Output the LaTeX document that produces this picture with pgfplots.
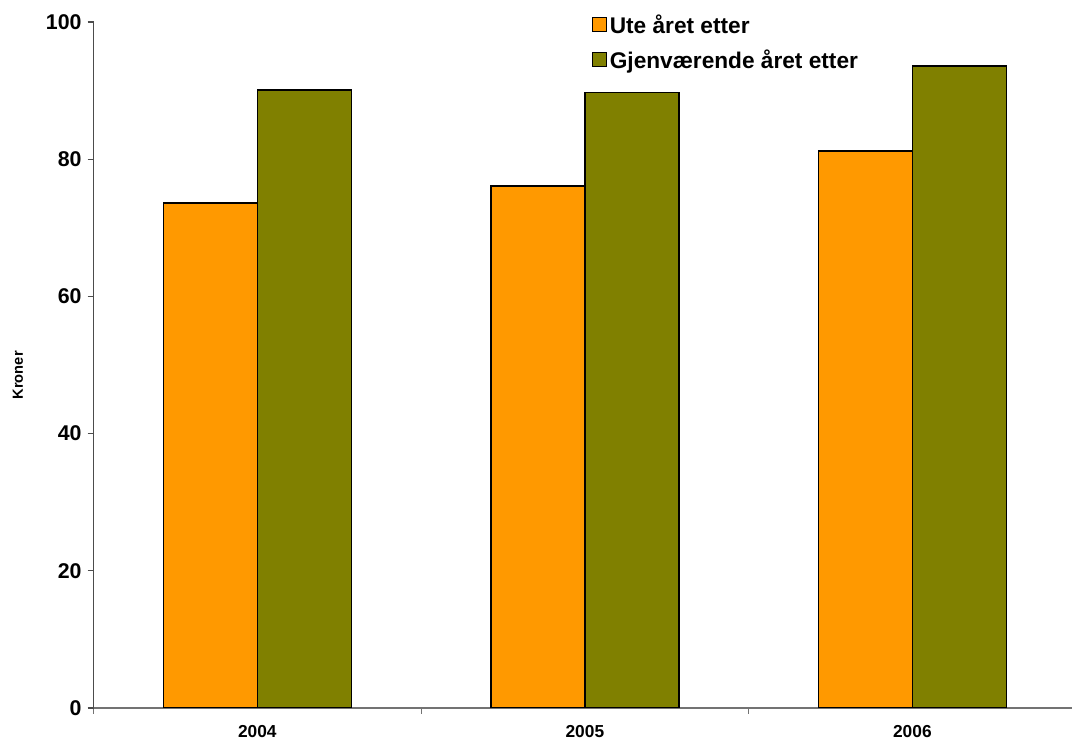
\documentclass[border=0pt]{standalone}
\usepackage{pgfplots}
\pgfplotsset{compat=1.18}
\usepackage{fontspec}
\setmainfont{Liberation Sans}
\definecolor{orangeb}{HTML}{FF9900}
\definecolor{oliveb}{HTML}{808000}
\begin{document}
\begin{tikzpicture}[x=1pt,y=1pt]
\useasboundingbox (0,0) rectangle (804,558.75);
\begin{axis}[
  at={(70.2pt,27.75pt)}, anchor=south west,
  scale only axis, width=736.9pt, height=514.5pt,
  xmin=-0.5, xmax=2.5, ymin=0, ymax=100,
  ybar=0pt, bar width=70.5pt,
  axis x line*=bottom, axis y line*=left,
  x axis line style={draw=black!55, line width=0.9pt},
  y axis line style={draw=black!70, line width=0.9pt},
  tick align=outside,
  xtick={0,1,2}, xticklabels={2004,2005,2006},
  major x tick style={draw=none},
  minor xtick={-0.5,0.5,1.5,2.5},
  minor tick length=4.5pt,
  minor x tick style={draw=black!55, line width=0.9pt},
  ytick={0,20,40,60,80,100},
  major tick length=4.5pt,
  major y tick style={draw=black!70, line width=0.9pt},
  /pgf/number format/assume math mode=true,
  yticklabel style={font=\bfseries\fontsize{16}{16}\selectfont, xshift=-1pt},
  xticklabel style={font=\bfseries\fontsize{13}{13}\selectfont, yshift=-5pt},
  ylabel={Kroner},
  ylabel style={font=\bfseries\fontsize{11}{11}\selectfont, at={(axis description cs:-0.077,0.485)}, anchor=center},
  legend style={at={(0.503,1.019)}, anchor=north west, draw=none, fill=none,
    font=\bfseries\fontsize{17}{17}\selectfont, row sep=6.75pt,
    /tikz/every even column/.append style={column sep=3pt}},
  legend cell align=left,
  legend image code/.code={\draw[#1, line width=0.8pt] (0pt,-5.25pt) rectangle (10.5pt,5.25pt);},
]
\addplot[fill=orangeb, draw=black, line width=1pt] coordinates {(0,73.6) (1,76.1) (2,81.2)};
\addplot[fill=oliveb, draw=black, line width=1pt] coordinates {(0,90.1) (1,89.7) (2,93.6)};
\legend{Ute året etter, Gjenværende året etter}
\end{axis}
\end{tikzpicture}
\end{document}
